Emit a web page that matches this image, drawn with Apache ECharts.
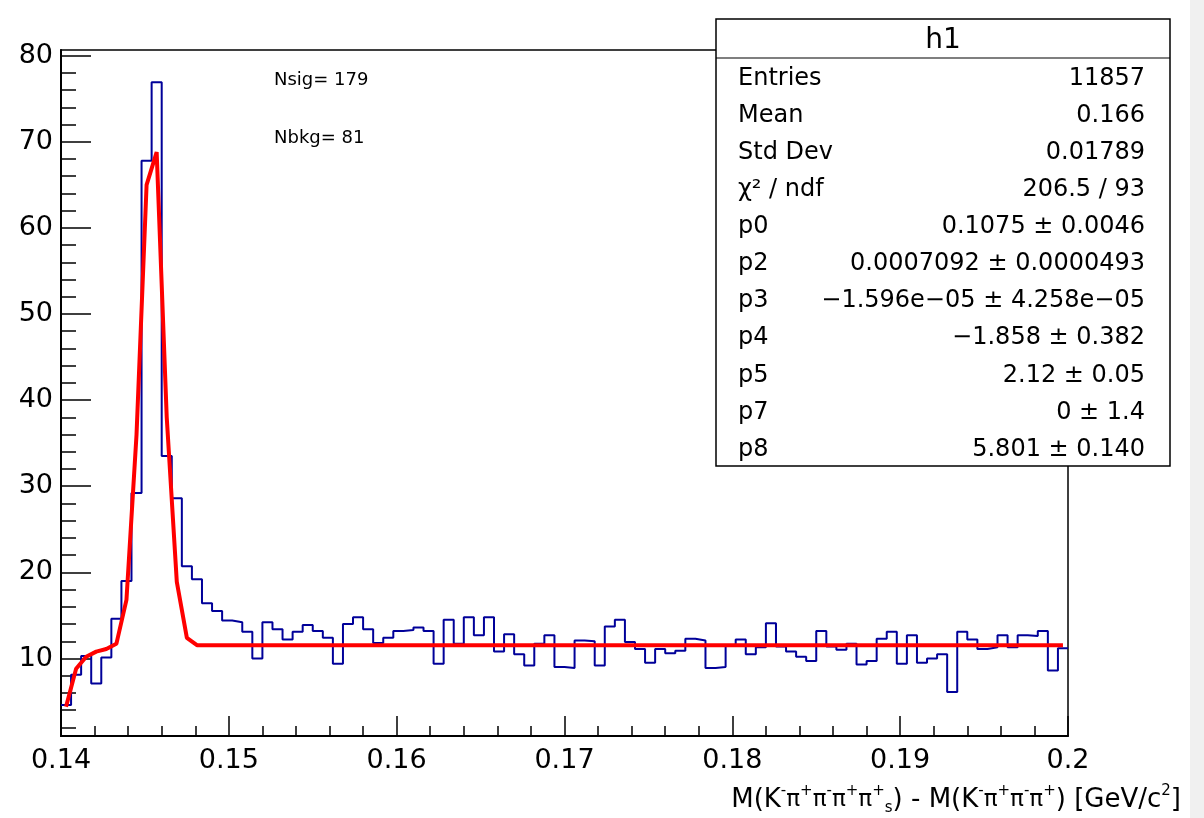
<!DOCTYPE html>
<html>
<head>
	<meta charset="UTF-8">
	<title>h1</title>
	<script src="https://cdn.jsdelivr.net/npm/echarts@6.0.0/dist/echarts.min.js"></script>
	<style>
		html, body { margin: 0; padding: 0; background: #fff; }
		#chart { width: 1204px; height: 818px; }
	</style>
</head>
<body>
	<div id="chart"></div>
	<script>
		// binning of h1
		var xMin = 0.14, xMax = 0.2, binWidth = 0.0006;
		var yMin = 1, yMax = 80.65;

		var histCounts = [
			4.6, 8.1, 10.3, 7.1, 10.1, 14.6, 19.0, 29.2, 67.8, 76.9,
			33.5, 28.6, 20.7, 19.2, 16.4, 15.5, 14.4, 14.2, 13.1, 10.0,
			14.2, 13.4, 12.2, 13.1, 13.9, 13.2, 12.4, 9.4, 14.0, 14.8,
			13.4, 11.8, 12.4, 13.2, 13.3, 13.6, 13.2, 9.4, 14.5, 11.7,
			14.8, 12.7, 14.8, 10.8, 12.8, 10.5, 9.2, 11.7, 12.7, 9.0,
			8.9, 12.1, 12.0, 9.2, 13.7, 14.5, 11.9, 11.1, 9.5, 11.1,
			10.6, 10.9, 12.3, 12.1, 8.9, 9.0, 11.5, 12.2, 10.5, 11.3,
			14.1, 11.4, 10.8, 10.2, 9.7, 13.2, 11.4, 11.0, 11.7, 9.3,
			9.7, 12.3, 13.1, 9.4, 12.7, 9.5, 10.0, 10.5, 6.1, 13.1,
			12.2, 11.1, 11.3, 12.7, 11.3, 12.7, 12.6, 13.2, 8.6, 11.2
		];
		// fit function sampled at bin centres
		var fitValues = [
			4.4, 8.8, 10.2, 10.8, 11.1, 11.7, 16.8, 36.0, 65.0, 68.8,
			38.0, 18.9, 12.4, 11.55, 11.55, 11.55, 11.55, 11.55, 11.55, 11.55,
			11.55, 11.55, 11.55, 11.55, 11.55, 11.55, 11.55, 11.55, 11.55, 11.55,
			11.55, 11.55, 11.55, 11.55, 11.55, 11.55, 11.55, 11.55, 11.55, 11.55,
			11.55, 11.55, 11.55, 11.55, 11.55, 11.55, 11.55, 11.55, 11.55, 11.55,
			11.55, 11.55, 11.55, 11.55, 11.55, 11.55, 11.55, 11.55, 11.55, 11.55,
			11.55, 11.55, 11.55, 11.55, 11.55, 11.55, 11.55, 11.55, 11.55, 11.55,
			11.55, 11.55, 11.55, 11.55, 11.55, 11.55, 11.55, 11.55, 11.55, 11.55,
			11.55, 11.55, 11.55, 11.55, 11.55, 11.55, 11.55, 11.55, 11.55, 11.55,
			11.55, 11.55, 11.55, 11.55, 11.55, 11.55, 11.55, 11.55, 11.55, 11.55
		];

		var xMajorTicks = [0.14, 0.15, 0.16, 0.17, 0.18, 0.19, 0.2];
		var xMinorTicks = [0.142, 0.144, 0.146, 0.148, 0.152, 0.154, 0.156, 0.158,
			0.162, 0.164, 0.166, 0.168, 0.172, 0.174, 0.176, 0.178,
			0.182, 0.184, 0.186, 0.188, 0.192, 0.194, 0.196, 0.198];
		var yMajorTicks = [10, 20, 30, 40, 50, 60, 70, 80];
		var yMinorTicks = [2, 4, 6, 8, 12, 14, 16, 18, 22, 24, 26, 28, 32, 34, 36, 38,
			42, 44, 46, 48, 52, 54, 56, 58, 62, 64, 66, 68, 72, 74, 76, 78];

		var statTitle = 'h1';
		var statLabels = ['Entries', 'Mean', 'Std Dev', 'χ² / ndf', 'p0', 'p2', 'p3', 'p4', 'p5', 'p7', 'p8'];
		var statValues = ['11857', '0.166', '0.01789', '206.5 / 93', '0.1075 ± 0.0046',
			'0.0007092 ± 0.0000493', '−1.596e−05 ± 4.258e−05', '−1.858 ± 0.382',
			'2.12 ± 0.05', '0 ± 1.4', '5.801 ± 0.140'];
		var fitNotes = ['Nsig= 179', 'Nbkg= 81'];
		// x title, split into normal / superscript / subscript pieces
		var xTitle = '{n|M(K}{u|-}{g|π}{u|+}{g|π}{u|-}{g|π}{u|+}{g|π}{u|+}{d|s}{n|) - M(K}{u|-}{g|π}{u|+}{g|π}{u|-}{g|π}{u|+}{n|) [GeV/c}{u|2}{n|]}';

		var FONT = '"DejaVu Sans", "Liberation Sans", sans-serif';

		var histData = [];
		for (var i = 0; i < histCounts.length; i++) {
			histData.push([xMin + i * binWidth, histCounts[i]]);
		}
		histData.push([xMin + histCounts.length * binWidth, histCounts[histCounts.length - 1]]);

		var fitData = [];
		for (var j = 0; j < fitValues.length; j++) {
			fitData.push([xMin + (j + 0.5) * binWidth, fitValues[j]]);
		}

		var graphics = [];
		// stats box
		graphics.push({
			type: 'rect', z: 100,
			shape: { x: 716, y: 19, width: 454, height: 447 },
			style: { fill: '#fff', stroke: '#000', lineWidth: 1.5 }
		});
		graphics.push({
			type: 'line', z: 101,
			shape: { x1: 716, y1: 58, x2: 1170, y2: 58 },
			style: { stroke: '#000', lineWidth: 1.2 }
		});
		graphics.push({
			type: 'text', z: 101, x: 943, y: 41,
			style: { text: statTitle, font: '28px ' + FONT, fill: '#000', align: 'center', verticalAlign: 'middle' }
		});
		for (var k = 0; k < statLabels.length; k++) {
			var ry = 78.5 + k * 37.1;
			graphics.push({
				type: 'text', z: 101, x: 738, y: ry,
				style: { text: statLabels[k], font: '24px ' + FONT, fill: '#000', align: 'left', verticalAlign: 'middle' }
			});
			graphics.push({
				type: 'text', z: 101, x: 1145, y: ry,
				style: { text: statValues[k], font: '24px ' + FONT, fill: '#000', align: 'right', verticalAlign: 'middle' }
			});
		}
		graphics.push({
			type: 'text', z: 101, x: 274, y: 80,
			style: { text: fitNotes[0], font: '18px ' + FONT, fill: '#000', align: 'left', verticalAlign: 'middle' }
		});
		graphics.push({
			type: 'text', z: 101, x: 274, y: 138,
			style: { text: fitNotes[1], font: '18px ' + FONT, fill: '#000', align: 'left', verticalAlign: 'middle' }
		});
		graphics.push({
			type: 'text', z: 101, x: 1181, y: 800,
			style: {
				text: xTitle, fill: '#000', align: 'right', verticalAlign: 'middle',
				rich: {
					n: { fontFamily: FONT, fontSize: 26, lineHeight: 32, verticalAlign: 'middle' },
					g: { fontFamily: FONT, fontSize: 23, lineHeight: 32, verticalAlign: 'middle' },
					u: { fontFamily: FONT, fontSize: 15, lineHeight: 18, verticalAlign: 'top' },
					d: { fontFamily: FONT, fontSize: 15, lineHeight: 14, verticalAlign: 'bottom' }
				}
			}
		});
		graphics.push({
			type: 'rect', z: 0,
			shape: { x: 1190, y: 0, width: 14, height: 818 },
			style: { fill: '#f0f0f0' }
		});

		var chart = echarts.init(document.getElementById('chart'), null, { renderer: 'canvas' });
		var options = {
			animation: false,
			backgroundColor: '#fff',
			grid: {
				left: 61, top: 50, right: 136, bottom: 82,
				show: true, borderColor: '#000', borderWidth: 1.5, backgroundColor: 'transparent'
			},
			xAxis: [{
				type: 'value', min: xMin, max: xMax, position: 'bottom',
				axisLine: { show: true, lineStyle: { color: '#000', width: 2 } },
				axisTick: { show: true, inside: true, length: 20, customValues: xMajorTicks, lineStyle: { color: '#000', width: 1.5 } },
				axisLabel: {
					show: true, customValues: xMajorTicks, margin: 11, color: '#000',
					fontFamily: FONT, fontSize: 27,
					formatter: function(v) { return String(+v.toFixed(3)); }
				},
				splitLine: { show: false }
			}, {
				type: 'value', min: xMin, max: xMax, position: 'bottom',
				axisLine: { show: false },
				axisTick: { show: true, inside: true, length: 10, customValues: xMinorTicks, lineStyle: { color: '#000', width: 1.5 } },
				axisLabel: { show: false },
				splitLine: { show: false }
			}],
			yAxis: [{
				type: 'value', min: yMin, max: yMax, position: 'left',
				axisLine: { show: true, lineStyle: { color: '#000', width: 2 } },
				axisTick: { show: true, inside: true, length: 30, customValues: yMajorTicks, lineStyle: { color: '#000', width: 1.5 } },
				axisLabel: {
					show: true, customValues: yMajorTicks, margin: 8, color: '#000',
					fontFamily: FONT, fontSize: 27, padding: [10, 0, 0, 0]
				},
				splitLine: { show: false }
			}, {
				type: 'value', min: yMin, max: yMax, position: 'left',
				axisLine: { show: false },
				axisTick: { show: true, inside: true, length: 15, customValues: yMinorTicks, lineStyle: { color: '#000', width: 1.5 } },
				axisLabel: { show: false },
				splitLine: { show: false }
			}],
			series: [{
				name: 'h1',
				type: 'line',
				step: 'end',
				xAxisIndex: 0, yAxisIndex: 0,
				data: histData,
				symbol: 'none',
				lineStyle: { color: '#000099', width: 2 },
				z: 3
			}, {
				name: 'fit',
				type: 'line',
				xAxisIndex: 0, yAxisIndex: 0,
				data: fitData,
				symbol: 'none',
				smooth: false,
				lineStyle: { color: '#ff0000', width: 4 },
				z: 4
			}],
			graphic: graphics
		};
		chart.setOption(options);
	</script>
</body>
</html>
